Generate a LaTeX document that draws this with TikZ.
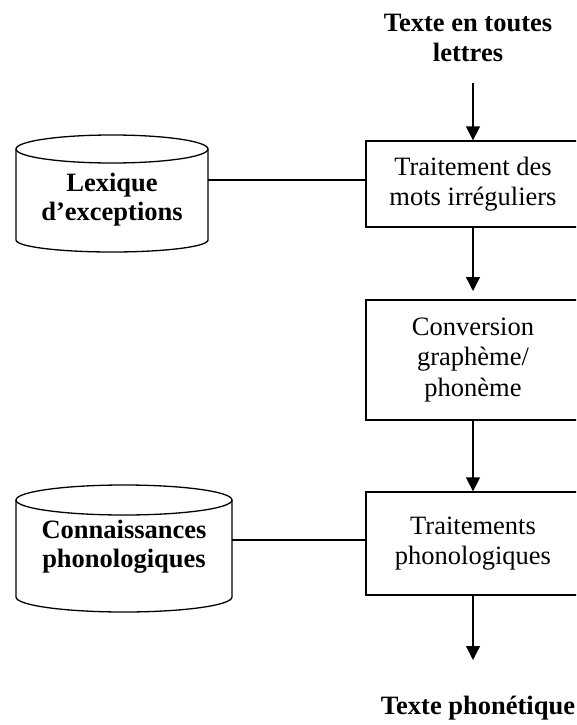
\documentclass[tikz,border=0pt]{standalone}
\usepackage{fontspec}
\setmainfont{Liberation Serif}
\usetikzlibrary{arrows.meta}
\tikzset{
  x=1pt, y=1pt,
  txt/.style={align=center, font=\fontsize{26.5}{30.5}\selectfont, inner sep=0pt},
  btxt/.style={txt, font=\fontsize{26.5}{30.5}\selectfont\bfseries},
  procbox/.style={draw, line width=1.3pt, minimum width=214pt, inner sep=0pt, align=center,
    font=\fontsize{26.5}{30.5}\selectfont},
  cyltext/.style={draw=none, inner sep=0pt, align=center,
    font=\fontsize{26.5}{29}\selectfont\bfseries},
  cylline/.style={line width=1.3pt},
  link/.style={line width=1.3pt},
  flow/.style={line width=1.3pt, -{Triangle[width=14pt,length=14pt]}}
}
\begin{document}
\begin{tikzpicture}
\useasboundingbox (0,0) rectangle (576,-725);
\clip (0,0) rectangle (576,-725);

% input and output labels
\node[btxt] (input) at (468,-38) {Texte en toutes\\lettres};
\node[btxt] (output) at (478,-708) {Texte phonétique};

% processing chain
\node[procbox, minimum height=86pt] (irreg) at (473,-184) {Traitement des\\mots irréguliers};
\node[procbox, minimum height=120pt] (conv) at (473,-360) {Conversion\\graphème/\\phonème};
\node[procbox, minimum height=103pt] (phono) at (473,-543.5) {Traitements\\phonologiques};

% databases (cylinders): text nodes span the cylinder width
\node[cyltext, minimum width=192pt] (lex) at (112,-200) {Lexique\\d’exceptions};
\draw[cylline] (16,-149) -- (16,-240)
  arc[start angle=180, end angle=360, x radius=96, y radius=12] -- (208,-149);
\draw[cylline] (112,-149) ellipse [x radius=96, y radius=14];

\node[cyltext, minimum width=216pt] (know) at (124,-547) {Connaissances\\phonologiques};
\draw[cylline] (16,-500) -- (16,-597)
  arc[start angle=180, end angle=360, x radius=108, y radius=15] -- (232,-500);
\draw[cylline] (124,-500) ellipse [x radius=108, y radius=15];

% connectors
\coordinate (instart) at (473,-83);
\coordinate (convtip) at (473,-291);
\coordinate (outtip) at (473,-660);
\draw[flow] (instart) -- (irreg.north);
\draw[flow] (irreg.south) -- (convtip);
\draw[flow] (conv.south) -- (phono.north);
\draw[flow] (phono.south) -- (outtip);
\draw[link] (irreg.west |- 0,-180) -- (lex.east |- 0,-180);
\draw[link] (phono.west |- 0,-540) -- (know.east |- 0,-540);
\end{tikzpicture}
\end{document}
